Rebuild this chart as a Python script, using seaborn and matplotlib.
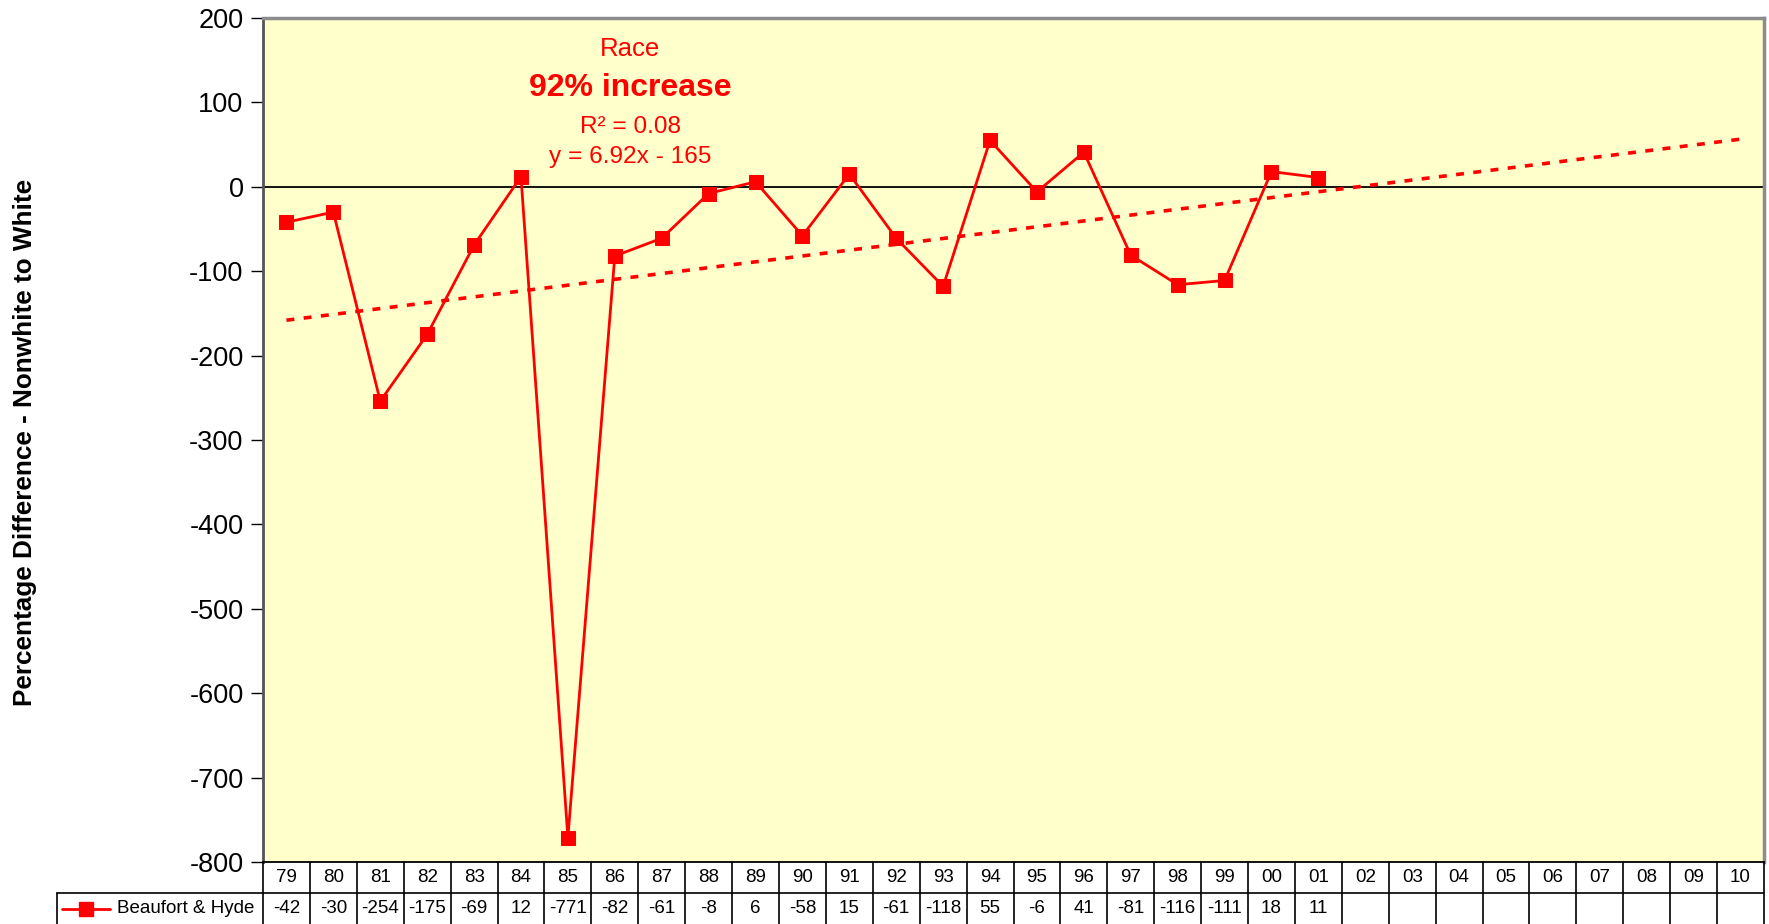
import numpy as np
import pandas as pd
import matplotlib
matplotlib.use("Agg")
import matplotlib.pyplot as plt
import seaborn as sns

# ---------------- data ----------------
years = ["79", "80", "81", "82", "83", "84", "85", "86", "87", "88", "89", "90",
         "91", "92", "93", "94", "95", "96", "97", "98", "99", "00", "01", "02",
         "03", "04", "05", "06", "07", "08", "09", "10"]
values = [-42, -30, -254, -175, -69, 12, -771, -82, -61, -8, 6, -58, 15, -61,
          -118, 55, -6, 41, -81, -116, -111, 18, 11]
series_name = "Beaufort & Hyde"
trend_slope = 6.92
trend_intercept = -165
y_ticks = list(range(-800, 201, 100))
ann_title = "Race"
ann_headline = "92% increase"
ann_r2 = "R² = 0.08"
ann_eq = "y = 6.92x - 165"
y_label = "Percentage Difference - Nonwhite to White"

# ---------------- style ----------------
sns.set_style("white")
plt.rcParams["font.family"] = ["Liberation Sans", "DejaVu Sans"]
plt.rcParams["axes.unicode_minus"] = False
plt.rcParams["text.color"] = "black"
plt.rcParams["ytick.color"] = "black"
plt.rcParams["ytick.labelcolor"] = "black"

W, H = 1769, 924
fig = plt.figure(figsize=(W / 100, H / 100), dpi=100)
L, R, T, B = 263, 1764, 18, 862

ax = fig.add_axes([L / W, 1 - B / H, (R - L) / W, (B - T) / H])
ax.set_facecolor("#FFFFCC")

n = len(years)
df = pd.DataFrame({"pos": np.arange(len(values)), "value": values})
pos_all = np.arange(n)
tdf = pd.DataFrame({"pos": pos_all, "trend": trend_slope * (pos_all + 1) + trend_intercept})

ax.axhline(0, color="black", lw=1.3, zorder=1)
sns.lineplot(data=tdf, x="pos", y="trend", ax=ax, color="red", lw=2.6,
             linestyle=(0, (2.2, 2.6)), zorder=2)
sns.lineplot(data=df, x="pos", y="value", ax=ax, color="red", lw=2,
             marker="s", markersize=9.5, markeredgecolor="red", zorder=3)

ax.set_xlim(-0.5, n - 0.5)
ax.set_ylim(-800, 200)
ax.set_yticks(y_ticks)
ax.set_xticks([])
ax.set_xlabel("")
ax.set_ylabel("")
ax.tick_params(axis="y", left=True, length=9, width=1, labelsize=19.5, direction="out",
               pad=5, color="black", labelcolor="black")
for s in ["top", "right"]:
    ax.spines[s].set_color("#8C8C8C")
    ax.spines[s].set_linewidth(2.5)
ax.spines["left"].set_color("#555555")
ax.spines["left"].set_linewidth(2)
ax.spines["bottom"].set_color("black")
ax.spines["bottom"].set_linewidth(1.3)

def axy(py):
    return (B - py) / (B - T)

cx = (630 - L) / (R - L)
ax.text(cx, axy(49), ann_title, transform=ax.transAxes, ha="center", va="center", color="red", fontsize=18.5)
ax.text(cx, axy(88), ann_headline, transform=ax.transAxes, ha="center", va="center", color="red", fontsize=23, fontweight="bold")
ax.text(cx, axy(127), ann_r2, transform=ax.transAxes, ha="center", va="center", color="red", fontsize=17.6)
ax.text(cx, axy(157), ann_eq, transform=ax.transAxes, ha="center", va="center", color="red", fontsize=17.6)

fig.text(25 / W, 1 - 442 / H, y_label, rotation=90, fontsize=18.8, fontweight="bold",
         ha="center", va="center", color="black")

# ---------------- data table ----------------
tab = fig.add_axes([L / W, 0, (R - L) / W, (H - B) / H])
tab.set_xlim(-0.5, n - 0.5)
tab.set_ylim(0, 2)
tab.axis("off")
for k in range(n + 1):
    tab.plot([k - 0.5, k - 0.5], [0, 2], color="black", lw=1.2, clip_on=False)
tab.plot([-0.5, n - 0.5], [1, 1], color="black", lw=1.2, clip_on=False)
for i, yr in enumerate(years):
    tab.text(i, 1.5, yr, ha="center", va="center", fontsize=13.5, color="black")
for i, v in enumerate(values):
    tab.text(i, 0.5, str(v), ha="center", va="center", fontsize=13.5, color="black")

leg = fig.add_axes([57 / W, 0, (L - 57) / W, (H - 893) / H])
leg.set_xlim(0, L - 57)
leg.set_ylim(0, H - 893)
leg.axis("off")
leg.plot([0, L - 57], [H - 893, H - 893], color="black", lw=1.2, clip_on=False)
leg.plot([0, 0], [0, H - 893], color="black", lw=1.2, clip_on=False)
leg.plot([5, 53], [15.5, 15.5], color="red", lw=2, clip_on=False)
leg.plot([29], [15.5], marker="s", markersize=9.5, color="red", clip_on=False)
leg.text(60, 15.5, series_name, ha="left", va="center", fontsize=13.5, color="black")

fig.savefig("out.png", dpi=100)
